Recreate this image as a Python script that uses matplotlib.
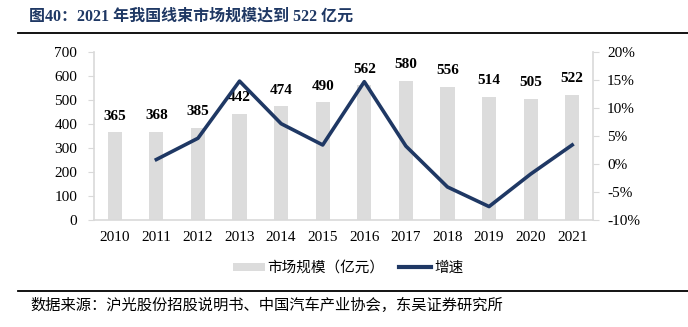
import numpy as np
import matplotlib
matplotlib.use("Agg")
import matplotlib.pyplot as plt
from matplotlib import ticker
from matplotlib.lines import Line2D
from matplotlib.patches import Patch

years = ["2010", "2011", "2012", "2013", "2014", "2015",
         "2016", "2017", "2018", "2019", "2020", "2021"]
market = [365, 368, 385, 442, 474, 490, 562, 580, 556, 514, 505, 522]
growth = [np.nan, 0.8, 4.6, 14.8, 7.2, 3.4, 14.7, 3.2, -4.1, -7.6, -1.8, 3.4]

NAVY = "#1f3864"
BAR = "#dcdcdc"
SPINE = "#d9d9d9"
SERIF = ["Liberation Serif", "Noto Sans CJK SC", "DejaVu Serif"]
CJK = ["Noto Sans CJK SC", "DejaVu Sans"]

plt.rcParams["font.family"] = SERIF

fig = plt.figure(figsize=(6.88, 3.27), dpi=100)
W, H = 688, 327


def px(x0, y0, x1, y1):
    return [x0 / W, 1 - y1 / H, (x1 - x0) / W, (y1 - y0) / H]


ax = fig.add_axes(px(94, 52, 593, 220))
x = np.arange(len(years))
ax.bar(x, market, width=0.34, color=BAR, zorder=1)
ax.set_xlim(-0.5, len(years) - 0.5)
ax.set_ylim(0, 700)
ax.yaxis.set_major_locator(ticker.MultipleLocator(100))
ax.set_xticks(x, years)
for s in ["top", "right"]:
    ax.spines[s].set_visible(False)
for s in ["left", "bottom"]:
    ax.spines[s].set_color(SPINE)
    ax.spines[s].set_linewidth(1.2)
ax.tick_params(axis="y", colors=SPINE, labelcolor="black", labelsize=11, length=4, pad=8)
ax.tick_params(axis="x", length=0, labelsize=11, pad=8)

for xi, v in zip(x, market):
    ax.text(xi, v + 40, str(v), ha="center", va="bottom",
            fontsize=11, fontweight="bold", zorder=3)

ax2 = ax.twinx()
ax2.set_ylim(-10, 20)
ax2.yaxis.set_major_locator(ticker.MultipleLocator(5))
ax2.yaxis.set_major_formatter(ticker.FuncFormatter(lambda v, p: f"{v:.0f}%"))
for s in ["top", "left", "bottom"]:
    ax2.spines[s].set_visible(False)
ax2.spines["right"].set_color(SPINE)
ax2.spines["right"].set_linewidth(1.2)
ax2.tick_params(axis="y", colors=SPINE, labelcolor="black", labelsize=11, length=4, pad=6)
ax2.plot(x, growth, color=NAVY, lw=2.6, zorder=4)

handles = [Patch(facecolor=BAR, edgecolor="none"),
           Line2D([], [], color=NAVY, lw=3)]
fig.legend(handles, ["市场规模（亿元）", "增速"], loc="center",
           bbox_to_anchor=(348 / W, 1 - 268 / H), ncol=2, frameon=False,
           prop={"family": CJK, "size": 10.5}, handlelength=2.2,
           handleheight=0.5, handletextpad=0.2, columnspacing=1.0)

fig.text(29 / W, 1 - 17 / H, "图40：2021 年我国线束市场规模达到 522 亿元",
         ha="left", va="center", fontsize=11.5, fontweight="bold",
         color=NAVY, family=SERIF)
fig.add_artist(Line2D([18 / W, 1], [1 - 33 / H] * 2, color="black", lw=1.3))
fig.add_artist(Line2D([18 / W, 1], [1 - 291 / H] * 2, color="black", lw=1.3))
fig.text(30 / W, 1 - 305 / H, "数据来源：沪光股份招股说明书、中国汽车产业协会，东吴证券研究所",
         ha="left", va="center", fontsize=11, family=CJK)

fig.savefig("out.png", dpi=100)
